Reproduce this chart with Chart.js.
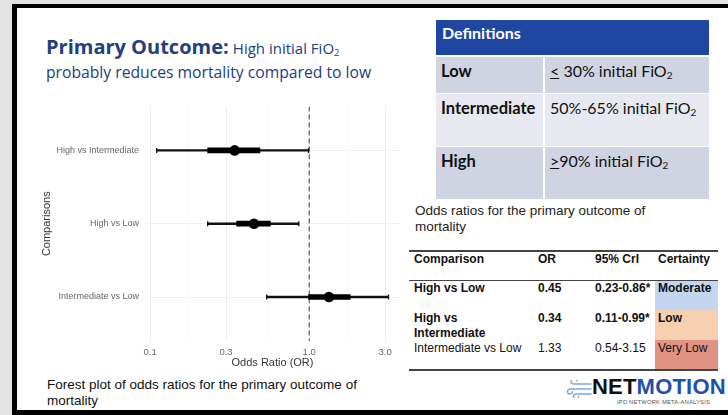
<!DOCTYPE html>
<html>
<head>
<meta charset="utf-8">
<script src="https://cdn.jsdelivr.net/npm/chart.js@4.4.1/dist/chart.umd.min.js"></script>
<style>
  body { margin: 0; width: 728px; height: 415px; overflow: hidden; background: #e3e3e3; position: relative; font-family: "Liberation Sans", Arial, sans-serif; }
  .abs { position: absolute; white-space: nowrap; }
  #slide { position: absolute; left: 12px; top: 4px; width: 740px; height: 402px; background: #fff; border-left: 5px solid #000; border-top: 4px solid #000; border-bottom: 5px solid #000; }
  .title { font-family: "Open Sans", sans-serif; color: #22407f; }
  .cal { font-family: Lato, "Open Sans", sans-serif; }
  sub { font-size: 62%; vertical-align: -0.25em; line-height: 0; }
  .cell { position: absolute; }
  .t2 { font-size: 12px; color: #111; line-height: 15px; }
  #chartBox { position: absolute; left: 30px; top: 95px; width: 380px; height: 280px; }
</style>
</head>
<body>
<div id="slide"></div>

<!-- title -->
<div class="abs title" style="left:46px; top:35px; line-height:24px;"><span style="font-weight:700; font-size:20px;">Primary Outcome:</span> <span style="font-size:15px;">High initial FiO<sub>2</sub></span></div>
<div class="abs title" style="left:46px; top:63px; line-height:18px; font-size:15.7px;">probably reduces mortality compared to low</div>

<!-- definitions table -->
<div class="cell" style="left:436px; top:20px; width:273px; height:35px; background:#1f46a0;"></div>
<div class="abs cal" style="left:442px; top:23px; line-height:20px; font-size:16px; font-weight:700; color:#fff;">Definitions</div>
<div class="cell" style="left:436px; top:57px; width:107px; height:36px; background:#cfd3e2;"></div>
<div class="cell" style="left:545px; top:57px; width:164px; height:36px; background:#cfd3e2;"></div>
<div class="cell" style="left:436px; top:94px; width:107px; height:52px; background:#e8e9f0;"></div>
<div class="cell" style="left:545px; top:94px; width:164px; height:52px; background:#e8e9f0;"></div>
<div class="cell" style="left:436px; top:147px; width:107px; height:52px; background:#cfd3e2;"></div>
<div class="cell" style="left:545px; top:147px; width:164px; height:52px; background:#cfd3e2;"></div>
<div class="abs cal" style="left:441px; top:61px; line-height:20px; font-size:16.5px; font-weight:700; color:#111;">Low</div>
<div class="abs cal" style="left:550px; top:61px; line-height:20px; font-size:16px; color:#111;"><u>&lt;</u> 30% initial FiO<sub>2</sub></div>
<div class="abs cal" style="left:441px; top:98px; line-height:20px; font-size:16.5px; font-weight:700; color:#111;">Intermediate</div>
<div class="abs cal" style="left:550px; top:98px; line-height:20px; font-size:16px; color:#111;">50%-65% initial FiO<sub>2</sub></div>
<div class="abs cal" style="left:441px; top:151px; line-height:20px; font-size:16.5px; font-weight:700; color:#111;">High</div>
<div class="abs cal" style="left:550px; top:151px; line-height:20px; font-size:16px; color:#111;"><u>&gt;</u>90% initial FiO<sub>2</sub></div>

<!-- odds ratio table -->
<div class="abs" style="left:415px; top:203px; font-size:13.5px; line-height:16px; color:#222;">Odds ratios for the primary outcome of<br>mortality</div>
<div class="cell" style="left:409px; top:250px; width:309px; height:1.5px; background:#444;"></div>
<div class="cell" style="left:409px; top:279.5px; width:309px; height:1.5px; background:#444;"></div>
<div class="cell" style="left:655px; top:281px; width:63px; height:29px; background:#c3d5ef;"></div>
<div class="cell" style="left:655px; top:310px; width:63px; height:30px; background:#f6d0b0;"></div>
<div class="cell" style="left:655px; top:340px; width:63px; height:29px; background:#e09383;"></div>
<div class="cell" style="left:409px; top:369px; width:309px; height:1.5px; background:#444;"></div>
<div class="abs t2" style="left:414px; top:252px; font-weight:700;">Comparison</div>
<div class="abs t2" style="left:538px; top:252px; font-weight:700;">OR</div>
<div class="abs t2" style="left:595px; top:252px; font-weight:700;">95% CrI</div>
<div class="abs t2" style="left:658px; top:252px; font-weight:700;">Certainty</div>
<div class="abs t2" style="left:414px; top:281px; font-weight:700;">High vs Low</div>
<div class="abs t2" style="left:538px; top:281px; font-weight:700;">0.45</div>
<div class="abs t2" style="left:595px; top:281px; font-weight:700;">0.23-0.86*</div>
<div class="abs t2" style="left:658px; top:281px; font-weight:700;">Moderate</div>
<div class="abs t2" style="left:414px; top:311px; font-weight:700;">High vs<br>Intermediate</div>
<div class="abs t2" style="left:538px; top:311px; font-weight:700;">0.34</div>
<div class="abs t2" style="left:595px; top:311px; font-weight:700;">0.11-0.99*</div>
<div class="abs t2" style="left:658px; top:311px; font-weight:700;">Low</div>
<div class="abs t2" style="left:414px; top:341px;">Intermediate vs Low</div>
<div class="abs t2" style="left:538px; top:341px;">1.33</div>
<div class="abs t2" style="left:595px; top:341px;">0.54-3.15</div>
<div class="abs t2" style="left:658px; top:341px;">Very Low</div>

<!-- logo -->
<svg class="abs" style="left:566px; top:380px;" width="26" height="18" viewBox="0 0 26 18">
  <g fill="none" stroke="#7ea6dc" stroke-width="1.4" stroke-linecap="round">
    <path d="M25 4 H8 a3 3 0 1 1 3 -3"/>
    <path d="M25 9 H4 a2.5 2.5 0 1 0 2.5 2.5"/>
    <path d="M25 14 H10 a2.5 2.5 0 1 0 2.5 2.5"/>
  </g>
</svg>
<div class="abs" style="left:592px; top:376px; font-size:22px; line-height:22px; font-weight:700; letter-spacing:0.2px;"><span style="color:#111;">NET</span><span style="color:#1f4fb0;">MOTION</span></div>
<div class="abs" style="left:617px; top:399px; font-size:5.8px; line-height:7px; color:#555; letter-spacing:0.2px;">IPD NETWORK META-ANALYSIS</div>

<!-- caption -->
<div class="abs" style="left:47px; top:377px; font-size:13.5px; line-height:16px; color:#111;">Forest plot of odds ratios for the primary outcome of<br>mortality</div>

<div id="chartBox"><canvas id="forest"></canvas></div>

<script>
// comparisons top to bottom
const categories = ['High vs Intermediate', 'High vs Low', 'Intermediate vs Low'];
const oddsRatio = [0.34, 0.45, 1.33];
const lower95 = [0.11, 0.23, 0.54];
const upper95 = [0.99, 0.86, 3.15];
const lower50 = [0.23, 0.35, 0.99];
const upper50 = [0.49, 0.57, 1.81];
const tickValues = [0.1, 0.3, 1, 3];
const tickLabels = ['0.1', '0.3', '1.0', '3.0'];
const minorValues = [0.173, 0.548, 1.732];

const capPoints = [];
categories.forEach((c, i) => {
  capPoints.push({ x: lower95[i], y: i });
  capPoints.push({ x: upper95[i], y: i });
});

const ctx = document.getElementById('forest').getContext('2d');
new Chart(ctx, {
  type: 'bar',
  data: {
    datasets: [
      {
        type: 'scatter',
        data: oddsRatio.map((v, i) => ({ x: v, y: i })),
        pointRadius: 5.3,
        backgroundColor: '#000',
        borderWidth: 0,
        order: 0
      },
      {
        data: lower50.map((v, i) => ({ x: [v, upper50[i]], y: i })),
        barThickness: 5,
        backgroundColor: '#000',
        grouped: false,
        order: 1
      },
      {
        type: 'scatter',
        data: capPoints,
        pointStyle: 'line',
        rotation: 90,
        pointRadius: 2.5,
        borderColor: '#111',
        borderWidth: 1.3,
        order: 2
      },
      {
        data: lower95.map((v, i) => ({ x: [v, upper95[i]], y: i })),
        barThickness: 1.7,
        backgroundColor: '#111',
        grouped: false,
        order: 3
      },
      {
        type: 'line',
        data: [{ x: 1, y: -0.6 }, { x: 1, y: 2.6 }],
        borderColor: '#444',
        borderWidth: 1,
        borderDash: [5, 3],
        pointRadius: 0,
        order: 4
      }
    ]
  },
  options: {
    indexAxis: 'y',
    responsive: true,
    maintainAspectRatio: false,
    animation: false,
    layout: { padding: { left: 10, right: 10, top: 8, bottom: 5 } },
    plugins: {
      legend: { display: false },
      tooltip: { enabled: false }
    },
    scales: {
      x: {
        type: 'logarithmic',
        min: 0.0929,
        max: 3.72,
        offset: false,
        border: { display: false },
        grid: {
          drawTicks: false,
          offset: false,
          color: c => (tickValues.includes(c.tick.value) ? '#ebebeb' : '#f5f5f5')
        },
        afterBuildTicks: s => {
          s.ticks = tickValues.concat(minorValues).sort((a, b) => a - b).map(v => ({ value: v }));
        },
        afterFit: s => { s.height = 29; },
        ticks: {
          autoSkip: false,
          maxRotation: 0,
          padding: 6,
          color: '#666',
          font: { family: 'Liberation Sans', size: 9.5 },
          callback: v => {
            const k = tickValues.indexOf(v);
            return k >= 0 ? tickLabels[k] : '';
          }
        },
        title: {
          display: true,
          text: 'Odds Ratio (OR)',
          color: '#333',
          padding: 0,
          font: { family: 'Liberation Sans', size: 11 }
        }
      },
      y: {
        type: 'linear',
        reverse: true,
        min: -0.6,
        max: 2.6,
        offset: false,
        border: { display: false },
        grid: { drawTicks: false, offset: false, color: '#f0f0f0' },
        afterBuildTicks: s => {
          s.ticks = categories.map((c, i) => ({ value: i }));
        },
        afterFit: s => { s.width = 105; },
        ticks: {
          padding: 6,
          color: '#666',
          font: { family: 'Liberation Sans', size: 9 },
          callback: v => categories[v]
        },
        title: {
          display: true,
          text: 'Comparisons',
          color: '#333',
          padding: 0,
          font: { family: 'Liberation Sans', size: 11 }
        }
      }
    }
  }
});
</script>
</body>
</html>
